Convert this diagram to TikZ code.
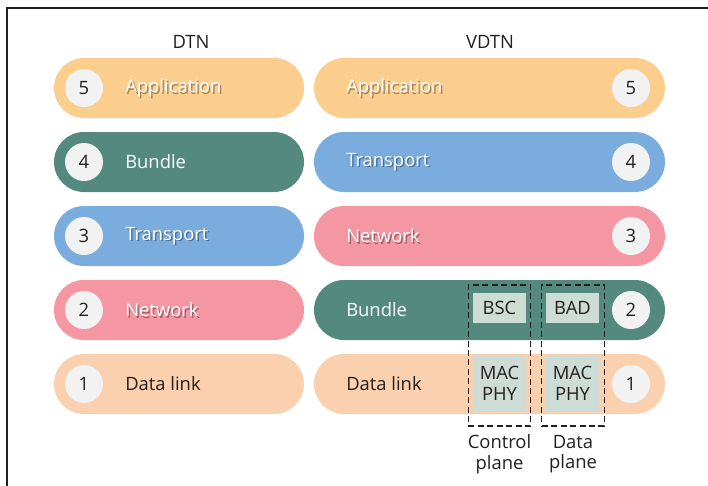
\documentclass[tikz,border=0pt]{standalone}
\usepackage{fontspec}
\setmainfont{Open Sans}
\usetikzlibrary{calc,positioning}
\definecolor{appcol}{HTML}{FBCE8E}
\definecolor{bundlecol}{HTML}{548A7E}
\definecolor{transcol}{HTML}{7AADDD}
\definecolor{netcol}{HTML}{F497A3}
\definecolor{linkcol}{HTML}{FBD0AE}
\definecolor{numcol}{HTML}{F2F2F2}
\definecolor{boxcol}{HTML}{CEDCD6}
\definecolor{inkcol}{HTML}{231F20}
% white label with a soft drop shadow
\newcommand{\shadowlabel}[3]{%
  \node[lbl,text=black,opacity=0.35] at ($(#1)+(1.5,1.5)$) {#3};
  \node[lbl,text=white] (#2) at (#1) {#3};}
\begin{document}
\begin{tikzpicture}[x=0.75pt,y=-0.75pt,
    font=\fontsize{13.8}{15.5}\selectfont,
    pill/.style={rectangle,rounded corners=22.5pt,minimum height=45pt,inner sep=0pt},
    dtnpill/.style={pill,minimum width=187.5pt},
    vdtnpill/.style={pill,minimum width=263.25pt},
    num/.style={circle,fill=numcol,minimum size=28.5pt,inner sep=0pt,text=inkcol},
    lbl/.style={anchor=west,inner sep=0pt},
    sub/.style={rectangle,fill=boxcol,minimum width=39.75pt,inner sep=0pt,text=inkcol,align=center,font=\fontsize{13.8}{16}\selectfont},
    plane/.style={rectangle,draw=inkcol,dash pattern=on 4.5pt off 2.6pt,line width=0.9pt,minimum width=47pt,minimum height=105.75pt,inner sep=0pt}
]
\useasboundingbox (0,0) rectangle (708,486);
\draw[line width=1.1pt,inkcol] (7,486) -- (7,8) -- (708,8);

\node[text=inkcol] (dtn)  at (191,42) {DTN};
\node[text=inkcol] (vdtn) at (490,42) {VDTN};

% DTN stack
\node[dtnpill,fill=appcol]    (d5) at (179,88)  {};
\node[dtnpill,fill=bundlecol] (d4) at (179,162) {};
\node[dtnpill,fill=transcol]  (d3) at (179,236) {};
\node[dtnpill,fill=netcol]    (d2) at (179,310) {};
\node[dtnpill,fill=linkcol]   (d1) at (179,384) {};

\node[num] (n5) at (84,88)  {5};
\node[num] (n4) at (84,162) {4};
\node[num] (n3) at (84,236) {3};
\node[num] (n2) at (84,310) {2};
\node[num] (n1) at (84,384) {1};

\coordinate (l5) at (125,88);
\coordinate (l4) at (125,162);
\coordinate (l3) at (125,236);
\coordinate (l2) at (125,310);
\coordinate (l1) at (125,384);
\shadowlabel{l5}{t5}{Application}
\node[lbl,text=white] (t4) at (l4) {Bundle};
\shadowlabel{l3}{t3}{Transport}
\shadowlabel{l2}{t2}{Network}
\node[lbl,text=inkcol] (t1) at (l1) {Data link};

% VDTN stack
\node[vdtnpill,fill=appcol]    (v5) at (489.5,88)  {};
\node[vdtnpill,fill=transcol]  (v4) at (489.5,162) {};
\node[vdtnpill,fill=netcol]    (v3) at (489.5,236) {};
\node[vdtnpill,fill=bundlecol] (v2) at (489.5,310) {};
\node[vdtnpill,fill=linkcol]   (v1) at (489.5,384) {};

\node[num] (m5) at (631,88)  {5};
\node[num] (m4) at (631,162) {4};
\node[num] (m3) at (631,236) {3};
\node[num] (m2) at (631,310) {2};
\node[num] (m1) at (631,384) {1};

\coordinate (k5) at (346,88);
\coordinate (k4) at (346,162);
\coordinate (k3) at (346,236);
\coordinate (k2) at (346,310);
\coordinate (k1) at (346,384);
\shadowlabel{k5}{u5}{Application}
\shadowlabel{k4}{u4}{Transport}
\shadowlabel{k3}{u3}{Network}
\node[lbl,text=white] (u2) at (k2) {Bundle};
\node[lbl,text=inkcol] (u1) at (k1) {Data link};

% control and data plane
\node[sub,minimum height=22.5pt] (bsc)  at (499.5,308)   {BSC};
\node[sub,minimum height=22.5pt] (bad)  at (572.5,308)   {BAD};
\node[sub,minimum height=42.75pt] (mac1) at (499.5,383.5) {MAC\\PHY};
\node[sub,minimum height=42.75pt] (mac2) at (572.5,383.5) {MAC\\PHY};

\node[plane] (ctrl) at (499.5,355.5) {};
\node[plane] (data) at (573,355.5)   {};

\node[below=6pt of ctrl.south,text=inkcol,align=center,inner sep=0pt] (ctrllbl) {Control\\plane};
\node[below=6pt of data.south,text=inkcol,align=center,inner sep=0pt] (datalbl) {Data\\plane};
\end{tikzpicture}
\end{document}
